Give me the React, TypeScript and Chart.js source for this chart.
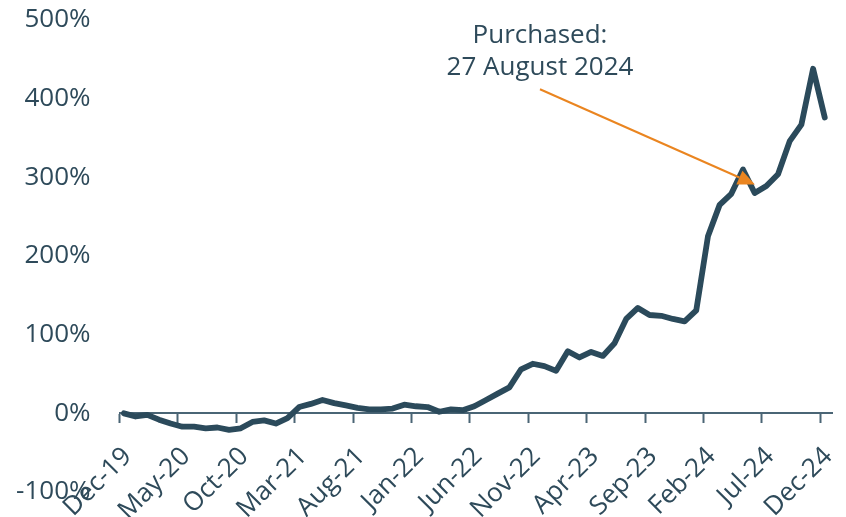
import React, { useEffect, useRef } from "react";
import { Chart, registerables } from "chart.js";

Chart.register(...registerables);

// Month index 0 = Dec-19 ... 60 = Dec-24
const tickLabels = [
  "Dec-19", "May-20", "Oct-20", "Mar-21", "Aug-21", "Jan-22", "Jun-22",
  "Nov-22", "Apr-23", "Sep-23", "Feb-24", "Jul-24", "Dec-24",
];
const monthsPerTick = 5;

const cumulativeReturn = [
  0, -4, -2, -8, -13, -17, -17, -19, -18, -21,
  -19, -11, -9, -13, -6, 8, 12, 17, 13, 10,
  7, 5, 5, 6, 11, 9, 8, 2, 5, 4,
  9, 17, 25, 33, 56, 63, 60, 54, 79, 71,
  78, 73, 89, 120, 134, 125, 124, 120, 117, 131,
  225, 265, 279, 310, 280, 289, 304, 346, 367, 438,
  376,
];
const pointOffset = 0.38;

const yTicks = { min: -100, max: 500, step: 100 };

const annotationLines = ["Purchased:", "27 August 2024"];
const annotationText = { x: 36.0, y: [480, 439] };
const annotationArrow = { fromX: 36.0, fromY: 412, toX: 54.4, toY: 291 };

const TEXT = "#2E4A5A";
const LINE = "#2B4A5B";
const AXIS = "#4A6575";
const ORANGE = "#EA8520";
const FONT = "'Open Sans', sans-serif";
const FONT_SIZE = 26;

export default function App() {
  const ref = useRef<HTMLCanvasElement>(null);

  useEffect(() => {
    if (!ref.current) return;
    const annotationPlugin = {
      id: "purchaseAnnotation",
      afterDraw(chart: any) {
        const { ctx, scales } = chart;
        const xs = scales.x;
        const ys = scales.y;
        ctx.save();
        ctx.font = `${FONT_SIZE}px ${FONT}`;
        ctx.fillStyle = TEXT;
        ctx.textAlign = "center";
        ctx.textBaseline = "middle";
        annotationLines.forEach((t, k) => {
          ctx.fillText(t, xs.getPixelForValue(annotationText.x), ys.getPixelForValue(annotationText.y[k]));
        });
        const x1 = xs.getPixelForValue(annotationArrow.fromX);
        const y1 = ys.getPixelForValue(annotationArrow.fromY);
        const x2 = xs.getPixelForValue(annotationArrow.toX);
        const y2 = ys.getPixelForValue(annotationArrow.toY);
        const ang = Math.atan2(y2 - y1, x2 - x1);
        const headLen = 17;
        const headW = 7.5;
        const bx = x2 - headLen * Math.cos(ang);
        const by = y2 - headLen * Math.sin(ang);
        ctx.strokeStyle = ORANGE;
        ctx.lineWidth = 2;
        ctx.beginPath();
        ctx.moveTo(x1, y1);
        ctx.lineTo(bx, by);
        ctx.stroke();
        ctx.fillStyle = ORANGE;
        ctx.beginPath();
        ctx.moveTo(x2, y2);
        ctx.lineTo(bx + headW * Math.sin(ang), by - headW * Math.cos(ang));
        ctx.lineTo(bx - headW * Math.sin(ang), by + headW * Math.cos(ang));
        ctx.closePath();
        ctx.fill();
        ctx.restore();
      },
    };

    const chart = new Chart(ref.current, {
      type: "line",
      data: {
        datasets: [
          {
            data: cumulativeReturn.map((v, i) => ({ x: i + pointOffset, y: v })),
            borderColor: LINE,
            borderWidth: 5.8,
            borderCapStyle: "round",
            borderJoinStyle: "round",
            pointRadius: 0,
            fill: false,
            tension: 0,
          },
        ],
      },
      options: {
        animation: false,
        responsive: true,
        maintainAspectRatio: false,
        layout: { padding: { left: 14, right: 14, top: 20, bottom: 25 } },
        plugins: { legend: { display: false }, tooltip: { enabled: false } },
        scales: {
          x: {
            type: "linear",
            position: { y: 0 } as any,
            min: 0,
            max: 61,
            afterBuildTicks: (scale: any) => {
              scale.ticks = tickLabels.map((_, k) => ({ value: k * monthsPerTick }));
            },
            afterFit: (scale: any) => {
              scale.paddingLeft = 0;
              scale.paddingRight = 0;
              scale.paddingTop = 0;
              scale.paddingBottom = 0;
            },
            grid: {
              drawOnChartArea: false,
              drawTicks: true,
              tickLength: 9,
              tickColor: AXIS,
              tickWidth: 2,
            },
            border: { display: true, color: AXIS, width: 2 },
            ticks: {
              autoSkip: false,
              minRotation: 45,
              maxRotation: 45,
              padding: 19,
              labelOffset: 8,
              color: TEXT,
              font: { family: FONT, size: FONT_SIZE },
              callback: (v: any) => tickLabels[Math.round(Number(v) / monthsPerTick)] ?? "",
            },
          },
          y: {
            type: "linear",
            min: yTicks.min,
            max: yTicks.max,
            afterFit: (scale: any) => {
              scale.width = 105.5;
              scale.paddingTop = 0;
              scale.paddingBottom = 0;
            },
            grid: { display: false, drawTicks: false },
            border: { display: false },
            ticks: {
              stepSize: yTicks.step,
              padding: 29,
              color: TEXT,
              font: { family: FONT, size: FONT_SIZE },
              callback: (v: any) => `${v}%`,
            },
          },
        },
      },
      plugins: [annotationPlugin],
    } as any);
    return () => chart.destroy();
  }, []);

  return (
    <div style={{ position: "absolute", left: 0, top: 0, width: 846, height: 517 }}>
      <canvas ref={ref} />
    </div>
  );
}
